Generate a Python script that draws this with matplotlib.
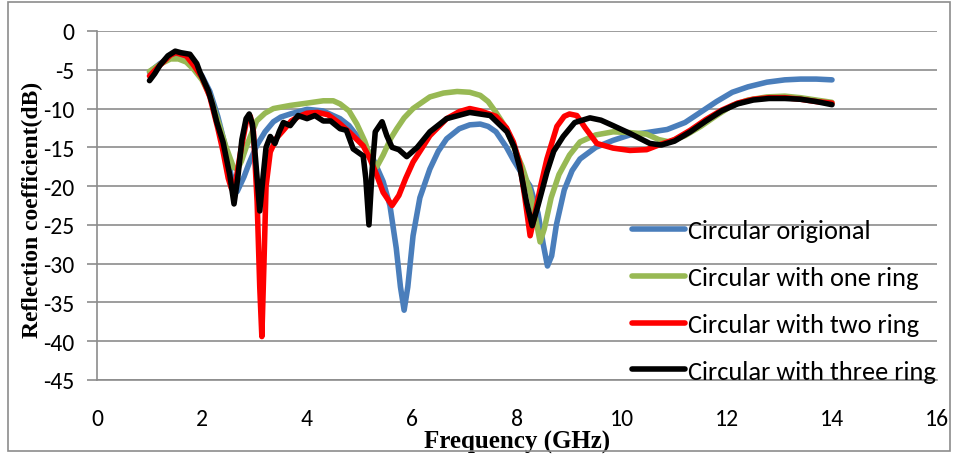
import matplotlib
matplotlib.use("Agg")
from matplotlib import pyplot as plt
from matplotlib import font_manager
from matplotlib.patches import Rectangle

# series: frequency (GHz) and reflection coefficient (dB)
f_orig = [1.0, 1.2, 1.4, 1.55, 1.7, 1.85, 2.0, 2.15, 2.3, 2.45, 2.55, 2.67, 2.8, 2.9,
          3.04, 3.2, 3.36, 3.5, 3.68, 4.0, 4.3, 4.63, 4.8, 4.95, 5.1, 5.26, 5.45, 5.58,
          5.7, 5.78, 5.85, 5.92, 6.02, 6.15, 6.34, 6.5, 6.66, 6.9, 7.1, 7.3, 7.45, 7.6,
          7.8, 7.93, 8.1, 8.25, 8.4, 8.5, 8.58, 8.66, 8.75, 8.9, 9.05, 9.2, 9.5, 9.83,
          10.15, 10.47, 10.86, 11.2, 11.49, 11.8, 12.1, 12.4, 12.76, 13.1, 13.4, 13.7, 14.0]
s_orig = [-5.3, -4.2, -3.4, -3.2, -3.6, -4.5, -5.8, -7.8, -11.0, -15.0, -18.5, -20.7, -18.8, -17.0,
          -14.8, -13.0, -11.7, -11.1, -10.7, -10.1, -10.3, -11.3, -12.2, -13.5, -14.8, -16.5, -19.4, -22.5,
          -28.0, -33.0, -36.0, -33.0, -26.4, -21.5, -17.8, -15.5, -13.9, -12.6, -12.1, -12.0, -12.3, -13.0,
          -15.0, -16.6, -18.5, -20.0, -23.5, -27.5, -30.3, -29.0, -25.0, -20.5, -18.0, -16.5, -15.0, -14.1,
          -13.4, -13.1, -12.7, -11.8, -10.5, -9.1, -7.9, -7.2, -6.6, -6.3, -6.2, -6.2, -6.3]

f_one = [1.0, 1.2, 1.4, 1.55, 1.7, 1.85, 2.0, 2.15, 2.3, 2.45, 2.6, 2.68, 2.75, 2.85,
         3.04, 3.2, 3.36, 3.68, 4.0, 4.31, 4.5, 4.63, 4.8, 4.95, 5.1, 5.2, 5.33, 5.45,
         5.6, 5.71, 5.85, 6.02, 6.34, 6.6, 6.86, 7.1, 7.3, 7.45, 7.6, 7.8, 7.93, 8.1,
         8.25, 8.35, 8.44, 8.52, 8.65, 8.8, 9.0, 9.2, 9.5, 9.83, 10.15, 10.47, 10.7, 10.9,
         11.2, 11.5, 11.8, 12.1, 12.4, 12.76, 13.1, 13.4, 13.7, 14.0]
s_one = [-5.2, -4.3, -3.6, -3.6, -4.0, -5.0, -6.3, -8.3, -11.5, -14.8, -17.6, -17.8, -16.8, -14.8,
         -11.6, -10.6, -10.0, -9.6, -9.3, -9.0, -9.0, -9.4, -10.3, -12.0, -14.2, -16.2, -17.5, -16.0,
         -13.8, -12.6, -11.2, -10.0, -8.5, -8.0, -7.8, -7.9, -8.3, -9.1, -10.5, -12.6, -14.8, -17.5,
         -20.7, -24.0, -27.2, -25.5, -21.5, -18.5, -16.0, -14.3, -13.4, -13.0, -13.1, -13.3, -14.0, -14.3,
         -13.5, -12.3, -10.9, -9.6, -8.9, -8.5, -8.4, -8.6, -8.9, -9.2]

f_two = [1.0, 1.2, 1.4, 1.5, 1.7, 1.85, 2.0, 2.15, 2.3, 2.4, 2.5, 2.56, 2.64, 2.75,
         2.85, 2.92, 2.98, 3.05, 3.1, 3.14, 3.18, 3.22, 3.3, 3.42, 3.55, 3.7, 3.85, 4.0,
         4.2, 4.4, 4.6, 4.8, 5.07, 5.2, 5.33, 5.45, 5.62, 5.75, 5.88, 6.02, 6.2, 6.34,
         6.66, 6.9, 7.1, 7.3, 7.6, 7.8, 7.93, 8.05, 8.15, 8.25, 8.33, 8.45, 8.57, 8.76,
         8.9, 9.0, 9.14, 9.3, 9.52, 9.83, 10.15, 10.47, 10.7, 11.0, 11.3, 11.6, 11.9, 12.2,
         12.5, 12.8, 13.1, 13.4, 13.7, 14.0]
s_two = [-5.8, -4.4, -3.1, -2.8, -3.2, -4.5, -6.0, -8.5, -12.5, -15.5, -19.0, -20.3, -19.5, -15.0,
         -11.5, -11.0, -13.0, -22.0, -33.0, -39.4, -30.0, -20.0, -15.6, -13.8, -12.8, -11.6, -11.0, -10.6,
         -10.5, -10.8, -11.8, -13.0, -14.8, -16.5, -18.6, -20.8, -22.5, -21.2, -19.0, -16.9, -15.0, -13.5,
         -11.3, -10.4, -10.0, -10.3, -11.0, -12.5, -14.3, -17.0, -21.5, -26.4, -24.0, -20.0, -16.5, -12.3,
         -11.0, -10.7, -10.9, -12.5, -14.5, -15.1, -15.4, -15.3, -14.7, -14.0, -12.8, -11.4, -10.2, -9.3,
         -8.8, -8.6, -8.6, -8.8, -9.1, -9.3]

f_three = [1.0, 1.1, 1.2, 1.35, 1.49, 1.6, 1.77, 1.9, 1.96, 2.12, 2.2, 2.28, 2.4, 2.53,
           2.61, 2.68, 2.76, 2.84, 2.9, 2.96, 3.02, 3.1, 3.16, 3.22, 3.3, 3.39, 3.47, 3.55,
           3.68, 3.83, 4.0, 4.15, 4.31, 4.45, 4.63, 4.75, 4.88, 5.07, 5.12, 5.18, 5.24, 5.3,
           5.43, 5.52, 5.62, 5.75, 5.9, 6.1, 6.34, 6.66, 7.1, 7.49, 7.81, 7.95, 8.06, 8.18,
           8.29, 8.4, 8.57, 8.7, 8.88, 9.1, 9.39, 9.6, 9.83, 10.15, 10.53, 10.75, 11.0, 11.3,
           11.6, 11.9, 12.2, 12.5, 12.8, 13.1, 13.4, 13.7, 14.0]
s_three = [-6.4, -5.5, -4.4, -3.2, -2.6, -2.8, -3.0, -4.2, -5.3, -7.7, -9.5, -11.7, -14.3, -18.6,
           -22.3, -19.0, -14.0, -11.3, -10.7, -12.0, -16.5, -23.2, -19.0, -15.0, -13.6, -14.5, -13.0, -11.8,
           -12.2, -10.9, -11.3, -10.9, -11.6, -11.6, -12.6, -12.8, -15.2, -16.1, -19.0, -25.0, -18.0, -13.0,
           -11.7, -13.5, -15.0, -15.3, -16.2, -15.0, -13.0, -11.3, -10.5, -10.9, -13.0, -15.0, -17.8, -22.0,
           -25.1, -22.5, -18.2, -15.5, -13.6, -11.8, -11.2, -11.5, -12.2, -13.2, -14.5, -14.7, -14.2, -13.0,
           -11.6, -10.3, -9.4, -8.9, -8.7, -8.7, -8.8, -9.1, -9.5]

labels = ["Circular origional", "Circular with one ring",
          "Circular with two ring", "Circular with three ring"]
colors = ["#4A7EBB", "#98B954", "#FF0000", "#000000"]

x_ticks = list(range(0, 17, 2))
y_ticks = list(range(-45, 1, 5))

# Calibri look-alike for the numbers and legend
names = {f.name for f in font_manager.fontManager.ttflist}
sans = next((n for n in ["Carlito", "Lato", "Open Sans"] if n in names), "DejaVu Sans")
plt.rcParams["font.family"] = [sans, "DejaVu Sans"]
plt.rcParams["axes.unicode_minus"] = False

fig = plt.figure(figsize=(9.57, 4.56), dpi=100)
ax = fig.add_axes([97 / 957, 1 - 381 / 456, 840 / 957, 349 / 456])

series = [(f_orig, s_orig), (f_one, s_one), (f_two, s_two), (f_three, s_three)]
for (fx, sy), lab, col in zip(series, labels, colors):
    ax.plot(fx, sy, color=col, lw=4.0, label=lab,
            solid_capstyle="round", solid_joinstyle="round")

ax.set_xlim(0, 16)
ax.set_ylim(-45, 0)
ax.set_xticks(x_ticks)
ax.set_yticks(y_ticks)
ax.grid(axis="y", color="#8c8c8c", lw=1.2)
ax.set_axisbelow(True)
for side in ["top", "right"]:
    ax.spines[side].set_visible(False)
for side in ["left", "bottom"]:
    ax.spines[side].set_color("#8c8c8c")
    ax.spines[side].set_linewidth(1.2)
ax.tick_params(axis="x", length=0, pad=20, labelsize=17)
ax.tick_params(axis="y", length=7, width=1.2, color="#8c8c8c", pad=9, labelsize=17)

ax.set_xlabel("Frequency (GHz)", family="Liberation Serif", weight="bold", fontsize=18, labelpad=1)
fig.text(32 / 957, 1 - 210 / 456, "Reflection coefficient(dB)", family="Liberation Serif",
         weight="bold", fontsize=17, rotation=90, ha="center", va="center")

ax.legend(loc="upper left", bbox_to_anchor=(0.637, 0.46), frameon=False, fontsize=19,
          handlelength=2.0, handletextpad=0.12, labelspacing=0.9, borderpad=0, borderaxespad=0)

fig.patches.append(Rectangle((8 / 957, 4 / 456), 942 / 957, 449 / 456, transform=fig.transFigure,
                             fill=False, edgecolor="#8c8c8c", lw=1.2))

plt.savefig("out.png", dpi=100)
